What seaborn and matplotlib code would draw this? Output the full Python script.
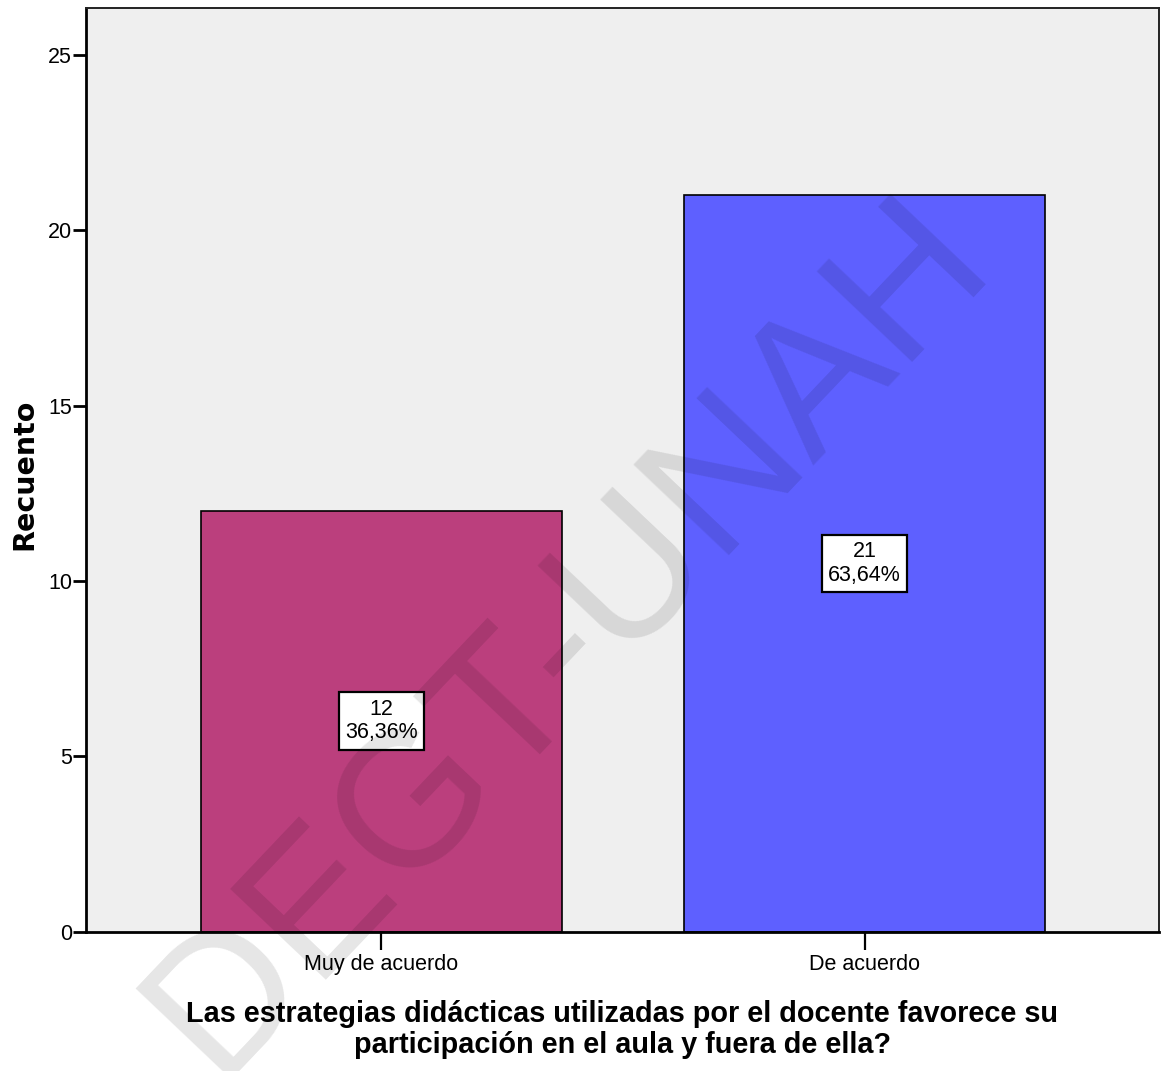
import matplotlib
matplotlib.use("Agg")
import matplotlib.pyplot as plt
import seaborn as sns
import pandas as pd

# ---- data ----
categories = ["Muy de acuerdo", "De acuerdo"]
counts = [12, 21]
bar_colors = ["#BB3F7D", "#5E60FF"]
y_ticks = [0, 5, 10, 15, 20, 25]
x_title = "Las estrategias didácticas utilizadas por el docente favorece su\nparticipación en el aula y fuera de ella?"
y_title = "Recuento"
watermark = "DEGT-UNAH"

sns.set_theme(style="white")
plt.rcParams['font.family'] = ['Liberation Sans', 'DejaVu Sans']
plt.rcParams['text.color'] = 'black'

W, H = 1168, 1071
fig = plt.figure(figsize=(W / 100, H / 100), dpi=100)
fig.patch.set_facecolor("white")
left, right, top, bottom = 86, 1159, 7.5, 931.5
ax = fig.add_axes([left / W, 1 - bottom / H, (right - left) / W, (bottom - top) / H])
ax.set_facecolor("#EFEFEF")

df = pd.DataFrame({"cat": categories, "n": counts})
sns.barplot(data=df, x="cat", y="n", hue="cat", palette=bar_colors, order=categories,
            hue_order=categories, width=0.747, dodge=False, saturation=1,
            edgecolor="black", linewidth=1.2, legend=False, ax=ax, zorder=2)

ax.set_xlim(-0.611, 1.609)
ax.set_ylim(0, 26.35)
ax.set_yticks(y_ticks)
ax.set_yticklabels([str(t) for t in y_ticks])

total = sum(counts)
for i, n in enumerate(counts):
    pct = f"{100 * n / total:.2f}".replace(".", ",") + "%"
    ax.text(i, n / 2, f"{n}\n{pct}", ha="center", va="center", fontsize=15.5,
            linespacing=1.15, color="black", zorder=5,
            bbox=dict(boxstyle="square,pad=0.3", facecolor="white", edgecolor="black", linewidth=1.6))

for side in ["left", "bottom"]:
    ax.spines[side].set_color("black")
    ax.spines[side].set_linewidth(2.0)
    ax.spines[side].set_visible(True)
for side in ["top", "right"]:
    ax.spines[side].set_color("#222222")
    ax.spines[side].set_linewidth(1.4)
    ax.spines[side].set_visible(True)

ax.tick_params(axis="y", direction="out", length=9.5, width=2, pad=0.5, labelsize=15.5,
               colors="black", labelcolor="black", left=True)
ax.tick_params(axis="x", direction="out", length=13, width=1.6, pad=3, labelsize=15.5,
               colors="black", labelcolor="black", bottom=True)

ax.set_xlabel(x_title, fontsize=20.8, fontweight="bold", linespacing=1.12, color="black",
              family=['Liberation Sans', 'DejaVu Sans'])
ax.xaxis.set_label_coords((left + right) / 2 / W, 1 - 1053 / H, transform=fig.transFigure)
ax.xaxis.label.set_verticalalignment("baseline")
ax.xaxis.label.set_multialignment("center")

ax.set_ylabel(y_title, fontsize=20.5, fontweight="bold", color="black", family=['DejaVu Sans'])
ax.yaxis.set_label_coords(24 / W, 1 - 474 / H, transform=fig.transFigure)
ax.yaxis.label.set_verticalalignment("center")
ax.yaxis.label.set_horizontalalignment("center")

fig.text(0.517, 0.3736, watermark, rotation=46.5, rotation_mode="anchor", ha="center",
         va="baseline", fontsize=138, color="black", alpha=0.1,
         family=['Liberation Sans', 'DejaVu Sans'], zorder=10)

fig.savefig("out.png", dpi=100)
